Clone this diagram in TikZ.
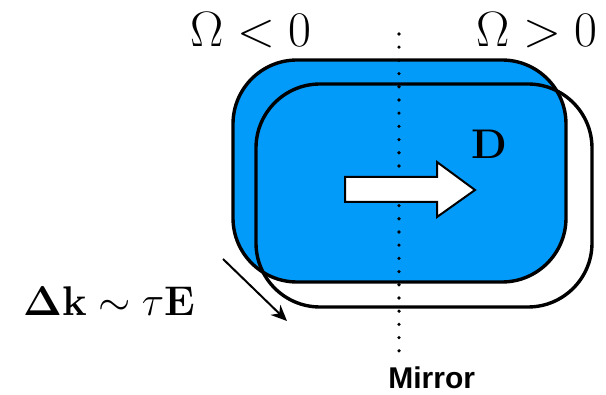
\documentclass[tikz,border=0pt]{standalone}
\usepackage{amsmath}
\usepackage[no-math]{fontspec}
\newfontfamily\mirrorfont{Liberation Sans}[BoldFont={Liberation Sans Bold}]
\usetikzlibrary{arrows.meta}
\definecolor{shapeblue}{RGB}{3,155,250}
\tikzset{
  px/.style={x=0.5pt,y=-0.5pt},
  outline/.style={line width=1.7pt,rounded corners=32pt},
  mirrorline/.style={line width=1.8pt,line cap=round,dash pattern=on 0pt off 6.6pt},
  lbl/.style={inner sep=0pt,anchor=base},
}
\begin{document}
\begin{tikzpicture}[px]
\useasboundingbox (0,0) rectangle (606,395);
% filled shape and its shifted outline
\fill[shapeblue,rounded corners=32pt] (233,60) rectangle (566,282);
\draw[outline] (233,60) rectangle (566,282);
\draw[outline] (256,84) rectangle (592,307);
% mirror
\coordinate (mtop) at (399,34);
\coordinate (mbot) at (399,360);
\draw[mirrorline] (mtop) -- (mbot);
% D arrow
\draw[fill=white,line width=1pt,line join=miter]
  (345,177) -- (437,177) -- (437,162) -- (475,190) -- (437,217) -- (437,202) -- (345,202) -- cycle;
\node[lbl] (D) at (489,159) {\fontsize{20}{24}\selectfont$\mathbf{D}$};
% labels
\node[lbl] (neg) at (251,47) {\fontsize{27.5}{32}\selectfont$\Omega<0$};
\node[lbl] (pos) at (537,47) {\fontsize{27.5}{32}\selectfont$\Omega>0$};
\node[lbl] (dk) at (109,316) {\fontsize{22}{26}\selectfont$\mathbf{\Delta k}\sim\tau\mathbf{E}$};
\node[inner sep=0pt,anchor=base west] (mir) at (388,389) {\fontsize{15}{18}\selectfont\mirrorfont\bfseries Mirror};
% shift arrow
\coordinate (sa) at (223,259);
\coordinate (sb) at (287,321);
\draw[line width=1pt,-{Stealth[length=8pt,width=7pt]}] (sa) -- (sb);
\end{tikzpicture}
\end{document}
